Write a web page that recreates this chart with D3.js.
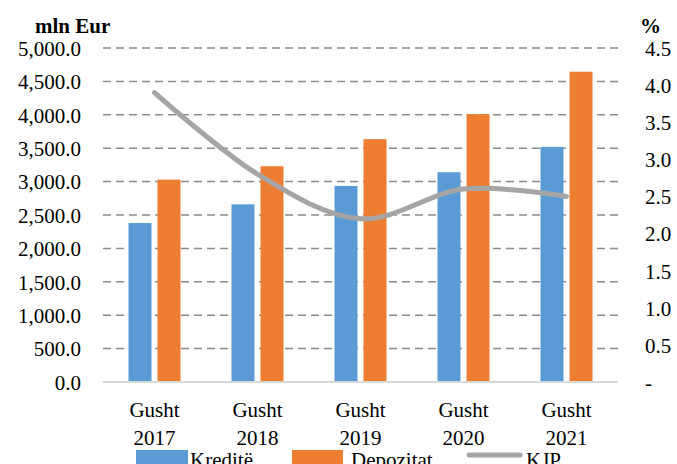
<!DOCTYPE html>
<html><head><meta charset="utf-8">
<script src="https://cdn.jsdelivr.net/npm/d3@7"></script>
<style>html,body{margin:0;padding:0;background:#fff;}svg{display:block;}
svg text{font-family:'Liberation Serif','Times New Roman',serif;}</style>
</head><body>
<svg id="c" width="677" height="464"></svg>
<script>
const categories = [["Gusht","2017"],["Gusht","2018"],["Gusht","2019"],["Gusht","2020"],["Gusht","2021"]];
const kredite = [2380, 2660, 2935, 3140, 3520];
const depozitat = [3030, 3230, 3635, 4010, 4645];
const kjp = [3.9, 2.8, 2.2, 2.6, 2.5];
const leftTicks = [0,500,1000,1500,2000,2500,3000,3500,4000,4500,5000];
const rightTicks = [0,0.5,1,1.5,2,2.5,3,3.5,4,4.5];
const seriesNames = ["Kreditë","Depozitat","KJP"];
const colors = ["#5b9bd5","#ed7d31","#a5a5a5"];

const svg = d3.select("#c");
const font = "'Liberation Serif','Times New Roman',serif";
const x0 = 103, x1 = 618, yTop = 48, yBot = 382;

const x = d3.scaleBand().domain(d3.range(categories.length)).range([x0, x1]).paddingInner(0).paddingOuter(0);
const yL = d3.scaleLinear().domain([0,5000]).range([yBot, yTop]);
const yR = d3.scaleLinear().domain([0,4.5]).range([yBot, yTop]);

// gridlines
svg.append("g").selectAll("line").data(leftTicks.filter(d=>d>0)).join("line")
  .attr("x1", x0).attr("x2", x1)
  .attr("y1", d=>yL(d)).attr("y2", d=>yL(d))
  .attr("stroke", "#8c8c8c").attr("stroke-width", 1.5).attr("stroke-dasharray", "8,5");

// bars
const bw = 23, gap = 6;
const g = svg.append("g");
g.selectAll("rect.k").data(kredite).join("rect")
  .attr("x", (d,i)=>x(i)+x.bandwidth()/2 - gap/2 - bw)
  .attr("width", bw).attr("y", d=>yL(d)).attr("height", d=>yBot-yL(d))
  .attr("fill", colors[0]);
g.selectAll("rect.d").data(depozitat).join("rect")
  .attr("x", (d,i)=>x(i)+x.bandwidth()/2 + gap/2)
  .attr("width", bw).attr("y", d=>yL(d)).attr("height", d=>yBot-yL(d))
  .attr("fill", colors[1]);

// baseline
svg.append("line").attr("x1", x0).attr("x2", x1).attr("y1", yBot).attr("y2", yBot)
  .attr("stroke", "#d9d9d9").attr("stroke-width", 2);

// line
const line = d3.line().x((d,i)=>x(i)+x.bandwidth()/2).y(d=>yR(d)).curve(d3.curveCardinal.tension(0));
svg.append("path").attr("d", line(kjp)).attr("fill","none")
  .attr("stroke", colors[2]).attr("stroke-width", 5).attr("stroke-linecap","round");

// left axis
const fmtL = d3.format(",.1f");
const axL = d3.axisLeft(yL).tickValues(leftTicks).tickFormat(fmtL).tickSize(0).tickPadding(0);
const gL = svg.append("g").attr("transform", "translate(81,0)").call(axL);
gL.attr("font-family", font).attr("font-size", 21);
gL.select(".domain").remove();
gL.selectAll("text").style("font-family", font).style("font-size", "21px").attr("fill","#000").attr("dy","0.35em");

// right axis
const fmtR = d => d === 0 ? "-" : d3.format(".1f")(d);
const axR = d3.axisRight(yR).tickValues(rightTicks).tickFormat(fmtR).tickSize(0).tickPadding(0);
const gR = svg.append("g").attr("transform", "translate(645,0)").call(axR);
gR.attr("font-family", font).attr("font-size", 21);
gR.select(".domain").remove();
gR.selectAll("text").style("font-family", font).style("font-size", "21px").attr("fill","#000").attr("dy","0.35em");

// axis titles
svg.append("text").attr("x", 35).attr("y", 33).text("mln Eur")
  .style("font-family", font).style("font-size", "21px").attr("font-weight","bold");
svg.append("text").attr("x", 640).attr("y", 33).text("%")
  .style("font-family", font).style("font-size", "21px").attr("font-weight","bold");

// category labels
const cg = svg.append("g").selectAll("text").data(categories).join("text")
  .style("font-family", font).style("font-size", "21px").attr("text-anchor","middle");
cg.append("tspan").attr("x", (d,i)=>x(i)+x.bandwidth()/2).attr("y", 417).text(d=>d[0]);
cg.append("tspan").attr("x", (d,i)=>x(i)+x.bandwidth()/2).attr("y", 445).text(d=>d[1]);

// legend
const lg = svg.append("g");
lg.append("rect").attr("x",136).attr("y",450).attr("width",52).attr("height",16).attr("fill",colors[0]);
lg.append("text").attr("x",190).attr("y",467).text(seriesNames[0]).style("font-family",font).style("font-size","21px");
lg.append("rect").attr("x",292).attr("y",450).attr("width",51).attr("height",16).attr("fill",colors[1]);
lg.append("text").attr("x",351).attr("y",467).text(seriesNames[1]).style("font-family",font).style("font-size","21px");
lg.append("line").attr("x1",469).attr("x2",520).attr("y1",455).attr("y2",455).attr("stroke",colors[2]).attr("stroke-width",5).attr("stroke-linecap","round");
lg.append("text").attr("x",526).attr("y",467).text(seriesNames[2]).style("font-family",font).style("font-size","21px");
</script>
</body></html>
